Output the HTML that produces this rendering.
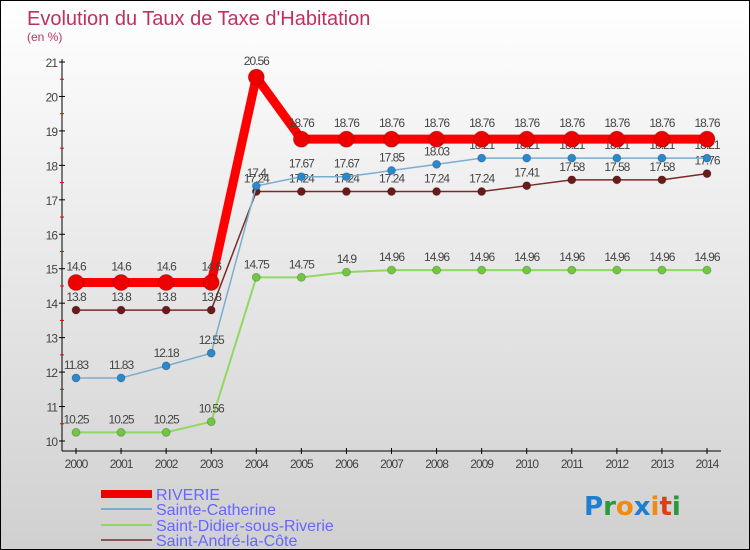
<!DOCTYPE html>
<html><head><meta charset="utf-8"><style>
body{margin:0}
#c{width:748px;height:548px;border:1px solid #000;background:linear-gradient(#fff 0%,#ececec 40%,#d0d0d0 100%);position:relative;overflow:hidden;font-family:"Liberation Sans",sans-serif}
</style></head><body>
<div id="c">
<svg id="s" width="748" height="548" style="position:absolute;left:0;top:0">
<text x="26" y="24" font-size="20" fill="#c0305f">Evolution du Taux de Taxe d'Habitation</text>
<text x="26" y="40" font-size="12" fill="#c0305f">(en %)</text>
<g id="axes"></g><g id="series"></g>
<g>
<rect x="100" y="489" width="51" height="8" fill="#e00"/>
<text x="155" y="499" font-size="16" fill="#66f">RIVERIE</text>
<rect x="100" y="507" width="51" height="2" fill="#7aaed0"/>
<text x="155" y="514" font-size="16" fill="#66f">Sainte-Catherine</text>
<rect x="100" y="523" width="51" height="2" fill="#90d860"/>
<text x="155" y="530" font-size="16" fill="#66f">Saint-Didier-sous-Riverie</text>
<rect x="100" y="538" width="51" height="2" fill="#8a5555"/>
<text x="155" y="545" font-size="16" fill="#66f">Saint-André-la-Côte</text>
</g>
<text x="583" y="514" font-size="26" font-family="'DejaVu Sans',sans-serif" font-weight="bold"><tspan fill="#1e7fd0">P</tspan><tspan fill="#2a9a3a">r</tspan><tspan fill="#f08a10">o</tspan><tspan fill="#1e7fd0">x</tspan><tspan fill="#f08a10">i</tspan><tspan fill="#e04010">t</tspan><tspan fill="#2a9a3a">i</tspan></text>
</svg>
</div>
<script>
const years=[2000,2001,2002,2003,2004,2005,2006,2007,2008,2009,2010,2011,2012,2013,2014];
const yTicks=[10,11,12,13,14,15,16,17,18,19,20,21];
const riverie=[14.6,14.6,14.6,14.6,20.56,18.76,18.76,18.76,18.76,18.76,18.76,18.76,18.76,18.76,18.76];
const sainteCatherine=[11.83,11.83,12.18,12.55,17.4,17.67,17.67,17.85,18.03,18.21,18.21,18.21,18.21,18.21,18.21];
const saintDidier=[10.25,10.25,10.25,10.56,14.75,14.75,14.9,14.96,14.96,14.96,14.96,14.96,14.96,14.96,14.96];
const saintAndre=[13.8,13.8,13.8,13.8,17.24,17.24,17.24,17.24,17.24,17.24,17.41,17.58,17.58,17.58,17.76];
const NS="http://www.w3.org/2000/svg";
const X=i=>75+i*(706-75)/(years.length-1);
const Y=v=>440-(v-10)*(440-61)/11;
function mk(t,a,p){const e=document.createElementNS(NS,t);for(const k in a)e.setAttribute(k,a[k]);p.appendChild(e);return e;}
const ax=document.getElementById('axes');
let l=mk('line',{x1:61,y1:58,x2:61,y2:450,stroke:'#000'},ax);

l=mk('line',{x1:61,y1:450,x2:720,y2:450,stroke:'#000'},ax);

yTicks.forEach(v=>{mk('line',{x1:58,x2:64,y1:Y(v),y2:Y(v),stroke:'#000'},ax);
 if(v<21)mk('line',{x1:59,x2:63,y1:Y(v+0.5),y2:Y(v+0.5),stroke:'#e00'},ax);
 const t=mk('text',{x:56,y:Y(v)+5,'font-size':12,fill:'#444','text-anchor':'end','letter-spacing':'-1'},ax);t.textContent=v;
 });
years.forEach((yr,i)=>{mk('line',{x1:X(i),x2:X(i),y1:447,y2:453,stroke:'#000'},ax);
 const t=mk('text',{x:X(i),y:467,'font-size':12,fill:'#444','text-anchor':'middle','letter-spacing':'-1'},ax);t.textContent=yr;
 });
const sg=document.getElementById('series');
function series(name,data,col,w,r,dot,off){
 const g=mk('g',{},sg);
 
 const p=mk('polyline',{points:data.map((v,i)=>X(i)+','+Y(v)).join(' '),fill:'none',stroke:col,'stroke-width':w,'stroke-linejoin':'round'},g);
 
 data.forEach((v,i)=>{const c=mk('circle',{cx:X(i),cy:Y(v),r:r,fill:dot,stroke:'rgba(0,0,0,0.2)'},g);
  
  const t=mk('text',{x:X(i),y:Y(v)-off,'font-size':12,fill:'#444','text-anchor':'middle','letter-spacing':'-1'},g);t.textContent=v;
  });
}
series('saint-didier',saintDidier,'#90d860',2,4,'#70c840',9);
series('saint-andre',saintAndre,'#7a2a2a',1.5,4,'#6a1a1a',9);
series('sainte-catherine',sainteCatherine,'#7aaed0',1.5,4,'#2a88cc',9);
series('riverie',riverie,'#f00',9,8,'#e00',12);
</script>
</body></html>
